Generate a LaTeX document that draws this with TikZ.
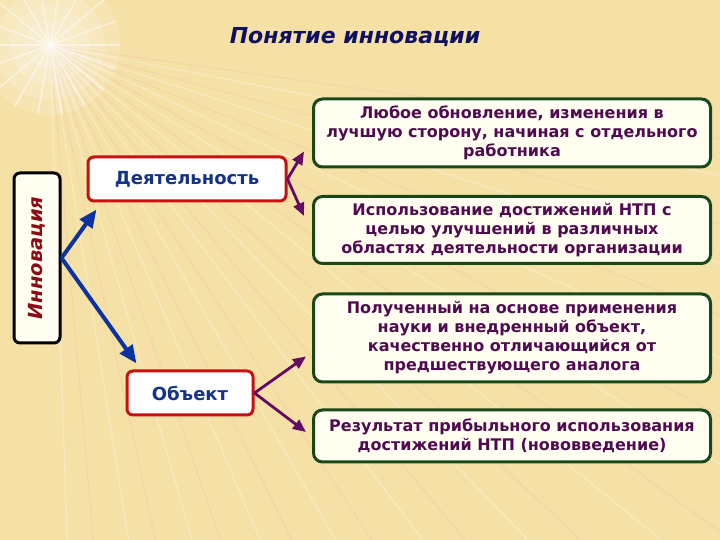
\documentclass[tikz,border=0pt]{standalone}
\usepackage{fontspec}
\setmainfont{DejaVu Sans}
\usetikzlibrary{positioning,calc,arrows.meta}
\definecolor{SandBg}{RGB}{245,224,166}
\definecolor{RayPink}{RGB}{236,170,170}
\definecolor{TitleNavy}{RGB}{16,16,96}
\definecolor{KeyRed}{RGB}{200,16,16}
\definecolor{KeyBlue}{RGB}{20,50,140}
\definecolor{InnRed}{RGB}{140,10,20}
\definecolor{DefGreen}{RGB}{24,72,24}
\definecolor{DefPurple}{RGB}{80,10,80}
\definecolor{ArrBlue}{RGB}{10,50,160}
\definecolor{ArrPurple}{RGB}{100,10,100}
\definecolor{Cream}{RGB}{255,254,240}
\tikzset{
    rootbox/.style={rectangle, rounded corners=6pt, draw=black, line width=3pt, fill=Cream,
        minimum width=170pt, minimum height=46pt, inner sep=0pt,
        font=\fontsize{19.5}{22}\selectfont\bfseries\itshape, text=InnRed},
    keybox/.style={rectangle, rounded corners=6pt, draw=KeyRed, line width=3pt, fill=white,
        minimum height=44pt, inner sep=0pt,
        font=\fontsize{18}{20}\selectfont\bfseries, text=KeyBlue},
    defbox/.style={rectangle, rounded corners=9pt, draw=DefGreen, line width=3pt, fill=Cream,
        minimum width=397pt, inner sep=0pt, align=center,
        font=\fontsize{16}{19}\selectfont\bfseries, text=DefPurple},
    bluearrow/.style={draw=ArrBlue, line width=4pt, -{Triangle[length=18pt,width=15pt]}},
    purplearrow/.style={draw=ArrPurple, line width=2.8pt, -{Triangle[length=13pt,width=11pt]}}
}
\begin{document}
\begin{tikzpicture}[x=1pt,y=1pt]
    \useasboundingbox (0,0) rectangle (720,540);
    % --- background with sun rays ---
    \fill[SandBg] (0,0) rectangle (720,540);
    \coordinate (sun) at (50,495);
    \foreach \a in {-88,-81,...,-10} {
        \draw[white, opacity=0.3, line width=1.2pt] (sun) -- ++(\a:900);
        \draw[RayPink, opacity=0.25, line width=0.8pt] (sun) -- ++(\a+3:900);
    }
    \foreach \a in {0,20,...,340} {
        \draw[white, opacity=0.5, line width=1.5pt] (sun) -- ++(\a:70);
    }
    \foreach \r in {70,55,...,10} {
        \fill[white, opacity=0.15] (sun) circle (\r);
    }

    % --- title ---
    \node[font=\fontsize{22}{24}\selectfont\bfseries\itshape, text=TitleNavy] (ttl) at (355,503) {Понятие инновации};

    % --- left part ---
    \node[rootbox, rotate=90] (inn) at (37,282) {Инновация};
    \node[keybox, minimum width=198pt] (act) at (187,361) {Деятельность};
    \node[keybox, minimum width=126pt] (obj) at (190,147) {Объект};

    % --- definitions ---
    \node[defbox, minimum height=68pt] (d1) at (512,407) {Любое обновление, изменения в\\лучшую сторону, начиная с отдельного\\работника};
    \node[defbox, minimum height=67pt] (d2) at (512,310) {Использование достижений НТП с\\целью улучшений в различных\\областях деятельности организации};
    \node[defbox, minimum height=88pt] (d3) at (512,202) {Полученный на основе применения\\науки и внедренный объект,\\качественно отличающийся от\\предшествующего аналога};
    \node[defbox, minimum height=52pt] (d4) at (512,104) {Результат прибыльного использования\\достижений НТП (нововведение)};

    % --- arrow end points ---
    \coordinate (actin) at ($(act.south west)+(10,-7)$);
    \coordinate (objin) at ($(obj.north west)+(11,6)$);
    \coordinate (d1in) at ($(d1.south west)+(-8,17)$);
    \coordinate (d2in) at ($(d2.north west)+(-8,-21)$);
    \coordinate (d3in) at ($(d3.south west)+(-6,27)$);
    \coordinate (d4in) at ($(d4.west)+(-6,4)$);

    % --- arrows ---
    \draw[bluearrow] (inn.south) -- (actin);
    \draw[bluearrow] (inn.south) -- (objin);
    \draw[purplearrow] (act.east) -- (d1in);
    \draw[purplearrow] (act.east) -- (d2in);
    \draw[purplearrow] (obj.east) -- (d3in);
    \draw[purplearrow] (obj.east) -- (d4in);
\end{tikzpicture}
\end{document}
